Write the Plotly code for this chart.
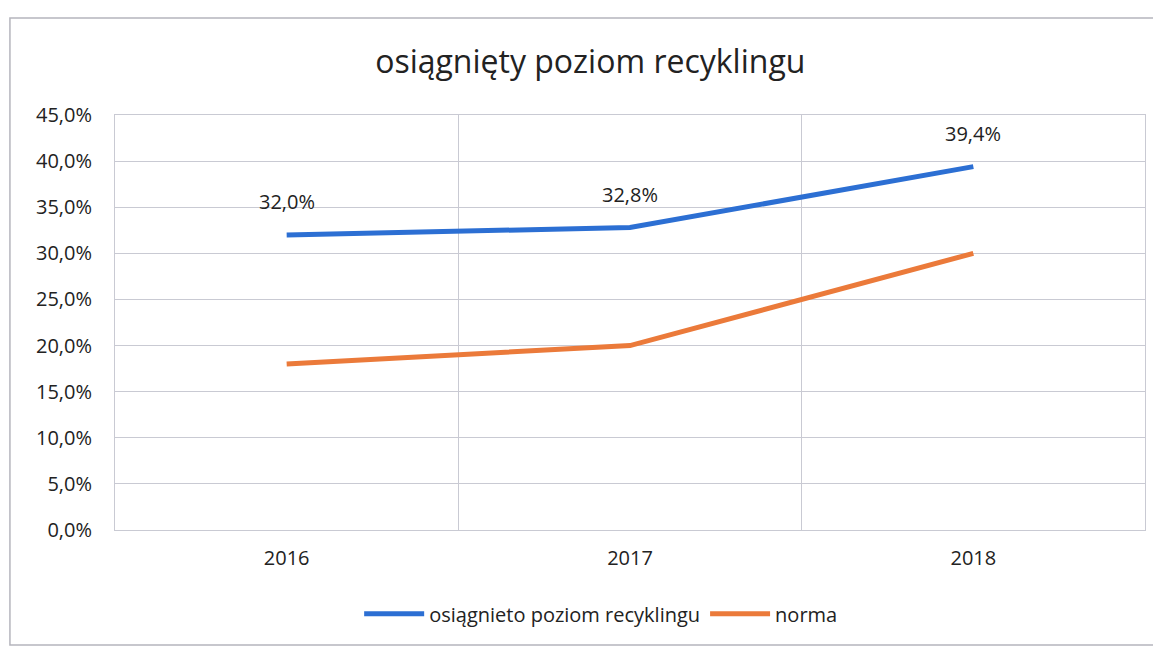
import plotly.graph_objects as go

years = ["2016", "2017", "2018"]
osiagniety = [0.320, 0.328, 0.394]
norma = [0.18, 0.20, 0.30]
y_ticks = [0, 0.05, 0.10, 0.15, 0.20, 0.25, 0.30, 0.35, 0.40, 0.45]

FONT = "Open Sans"
BLUE = "#2c6fd3"
ORANGE = "#eb7a3a"
GRID = "#c9cad3"

fig = go.Figure()
fig.add_trace(go.Scatter(
    x=years, y=osiagniety, mode="lines", name="osiągnieto poziom recyklingu",
    line=dict(color=BLUE, width=5),
))
fig.add_trace(go.Scatter(
    x=years, y=norma, mode="lines", name="norma",
    line=dict(color=ORANGE, width=5),
))

# data labels above the blue line (category index, so "2016" is not read as a number)
for i, v in enumerate(osiagniety):
    fig.add_annotation(
        x=i, y=v, text=f"{v * 100:.1f}%".replace(".", ","),
        showarrow=False, yshift=33,
        font=dict(family=FONT, size=20, color="#222222"),
    )

# outer chart frame
fig.add_shape(
    type="rect", xref="paper", yref="paper",
    x0=-0.102, x1=1.05, y0=-0.277, y1=1.234,
    line=dict(color="#b5b5bd", width=1.5), fillcolor="rgba(0,0,0,0)",
    layer="below",
)

fig.update_layout(
    width=1153, height=638,
    margin=dict(l=107, r=16, t=107, b=116),
    paper_bgcolor="white", plot_bgcolor="white",
    separators=", ",
    title=dict(
        text="osiągnięty poziom recyklingu",
        x=0.505, xanchor="center", y=0.915, yanchor="middle",
        font=dict(family=FONT, size=32, color="#222222"),
    ),
    font=dict(family=FONT, size=20, color="#222222"),
    legend=dict(
        orientation="h", x=0.472, xanchor="center", y=-0.202, yanchor="middle",
        font=dict(family=FONT, size=20, color="#222222"),
        itemwidth=60,
    ),
    showlegend=True,
)
fig.update_xaxes(
    type="category", tickson="boundaries", showgrid=True, gridcolor=GRID,
    ticks="", showline=True, linecolor=GRID, mirror=True,
    ticklabelstandoff=10, range=[-0.5, 2.5],
)
fig.update_yaxes(
    range=[0, 0.45], tickvals=y_ticks, tickformat=".1%",
    showgrid=True, gridcolor=GRID, zeroline=False,
    showline=True, linecolor=GRID, mirror=True,
    ticks="", ticklabelstandoff=18,
)

fig.write_html("out.html")
